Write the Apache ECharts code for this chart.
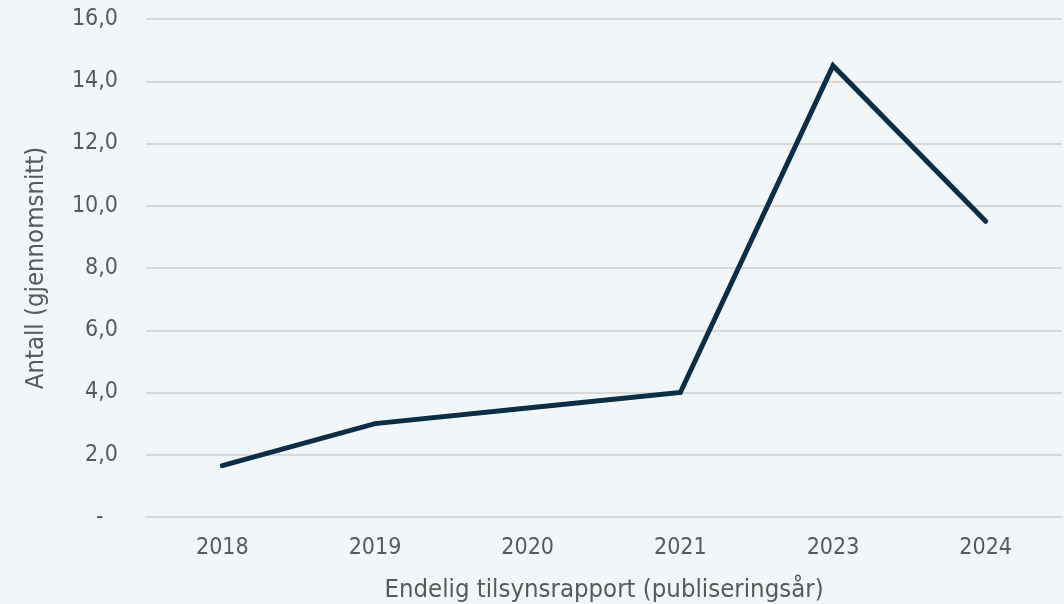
<!DOCTYPE html>
<html><head><meta charset="utf-8">
<script src="https://cdn.jsdelivr.net/npm/echarts@6/dist/echarts.min.js"></script>
<style>html,body{margin:0;padding:0;background:#f1f6f9;}#c{width:1064px;height:604px;}</style>
</head><body><div id="c"></div>
<script>
const categories = ['2018', '2019', '2020', '2021', '2023', '2024'];
const values = [1.65, 3.0, 3.5, 4.0, 14.5, 9.5];
const xTitle = 'Endelig tilsynsrapport (publiseringsår)';
const yTitle = 'Antall (gjennomsnitt)';

const chart = echarts.init(document.getElementById('c'));
const txt = '#595959';
const ff = '"DejaVu Sans Condensed", "DejaVu Sans", sans-serif';
chart.setOption({
  backgroundColor: '#f1f6f9',
  animation: false,
  grid: { left: 146, right: 2, top: 19, bottom: 87, containLabel: false, outerBoundsMode: 'none' },
  xAxis: {
    type: 'category', data: categories, boundaryGap: true,
    axisLine: { show: true, lineStyle: { color: '#d9d9d9', width: 2 } },
    axisTick: { show: false },
    axisLabel: { color: txt, fontFamily: ff, fontSize: 23, margin: 20 },
    name: xTitle, nameLocation: 'middle', nameGap: 60,
    nameTextStyle: { color: txt, fontFamily: ff, fontSize: 25.5 }
  },
  yAxis: {
    type: 'value', min: 0, max: 16, interval: 2,
    axisLine: { show: false }, axisTick: { show: false },
    splitLine: { lineStyle: { color: '#d9d9d9', width: 2 } },
    axisLabel: { color: txt, fontFamily: ff, fontSize: 23, margin: 28,
      formatter: v => v === 0 ? '-\u2002\u2009' : v.toFixed(1).replace('.', ',') },
    name: yTitle, nameLocation: 'middle', nameGap: 97, nameRotate: 90,
    nameTextStyle: { color: txt, fontFamily: ff, fontSize: 25.5 }
  },
  series: [{
    type: 'line', data: values, symbol: 'none',
    lineStyle: { color: '#0b2d46', width: 5, cap: 'round', join: 'miter' }
  }]
});
</script></body></html>
